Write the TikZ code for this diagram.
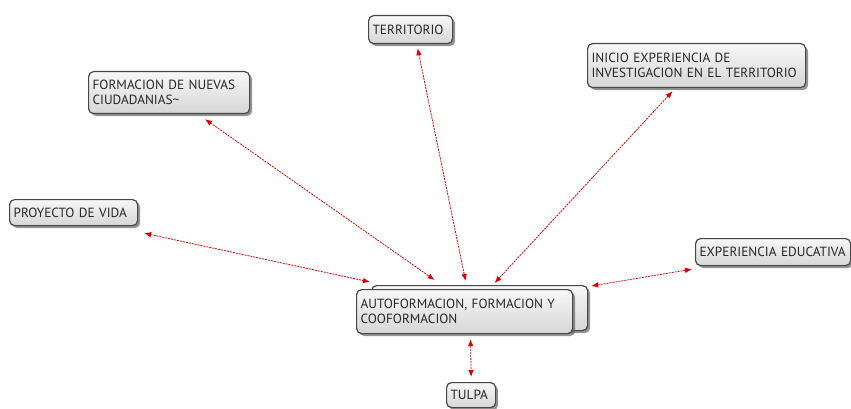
\documentclass[tikz,border=0pt]{standalone}
\usepackage{fontspec}
\setmainfont{PT Sans}
\usetikzlibrary{arrows.meta,shadows,calc}
\begin{document}
\begin{tikzpicture}[x=1pt,y=-1pt,
  caja/.style={draw=black!72,line width=1.2pt,rounded corners=5pt,
    top color=black!3,bottom color=black!16,
    drop shadow={shadow xshift=2.5pt,shadow yshift=-2.5pt,fill=black!60,opacity=.7},
    anchor=north west,align=left,inner xsep=4pt,inner ysep=2pt,
    font=\fontsize{13.3}{15}\selectfont,text=black!85},
  flecha/.style={red!85!black,dash pattern=on 2pt off 1pt,line width=.8pt,
    {Latex[length=7pt,width=5.5pt]}-{Latex[length=7pt,width=5.5pt]}}]
\useasboundingbox (0,0) rectangle (851,409);

\node [caja,text width=76pt,minimum height=28pt] (t) at (368,15) {TERRITORIO};
\node [caja,text width=210pt,minimum height=44pt] (i) at (587,43)
  {INICIO EXPERIENCIA DE\\INVESTIGACION EN EL TERRITORIO};
\node [caja,text width=153pt,minimum height=42pt] (f) at (88,71)
  {FORMACION DE NUEVAS\\CIUDADANIAS\textasciitilde};
\node [caja,text width=120pt,minimum height=26pt] (p) at (9,199) {PROYECTO DE VIDA};
\node [caja,text width=147pt,minimum height=27pt] (e) at (695,238) {EXPERIENCIA EDUCATIVA};
\node [caja,text width=208pt,minimum height=45pt] (c2) at (371,285) {};
\node [caja,text width=208pt,minimum height=44pt] (c) at (356,289)
  {AUTOFORMACION, FORMACION Y\\COOFORMACION};
\node [caja,text width=41pt,minimum height=25pt] (u) at (446,382) {TULPA};

\draw [flecha] ($(p.south east)+(6,7)$) -- ($(c.north west)+(14,-7)$);
\draw [flecha] ($(f.south)+(36,5)$) -- ($(c.north)+(-30,-9)$);
\draw [flecha] ($(t.south)+(7,4)$) -- ($(c.north)+(1,-8)$);
\draw [flecha] ($(i.south)+(-24,3)$) -- ($(c.north)+(30,-6)$);
\draw [flecha] ($(e.south west)+(-3,3)$) -- ($(c2.north east)+(3,1)$);
\draw [flecha] ($(c.south)+(6,5)$) -- ($(u.north)+(0,-5)$);
\end{tikzpicture}
\end{document}
